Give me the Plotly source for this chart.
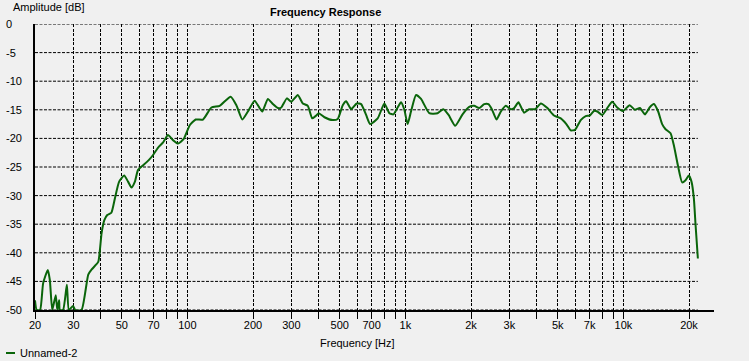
import math
import plotly.graph_objects as go

# ---- data ----
freq_hz = [20.0, 20.36, 21.1, 21.8, 22.9, 23.4, 24.0, 24.9, 25.3, 25.8, 26.0, 26.9, 28.0, 28.6,
           29.9, 30.6, 32.7, 35.1, 36.4, 39.0, 39.7, 40.4, 41.6, 42.9, 44.8, 46.5, 48.6, 51.3,
           53.5, 55.4, 57.4, 59.4, 62.7, 66.5, 69.6, 73.4, 77.4, 81.5, 85.9, 90.6, 96.2, 102.5,
           109.2, 117.9, 128.9, 140.7, 158.0, 167.8, 178.6, 189.5, 203.4, 212.8, 220.6, 234.0,
           246.7, 260.0, 269.6, 285.9, 299.5, 321.0, 338.5, 356.8, 373.7, 390.0, 400.6, 425.4,
           464.4, 489.5, 516.0, 535.0, 563.9, 598.2, 626.6, 660.5, 689.0, 746.5, 801.1, 844.4,
           880.8, 921.6, 955.1, 989.0, 1024, 1061, 1119, 1180, 1287, 1405, 1492, 1578, 1693,
           1829, 1962, 2068, 2180, 2299, 2405, 2493, 2618, 2742, 2890, 3047, 3155, 3301, 3506,
           3696, 3937, 4180, 4481, 4809, 5161, 5474, 5734, 6000, 6372, 6716, 7006, 7331, 7590,
           8001, 8434, 8890, 9371, 9951, 10683, 11297, 11908, 12552, 13190, 13800, 14440, 15060,
           15610, 16460, 17040, 17780, 18600, 19280, 19960, 20540, 21050, 21430, 21960]
amplitude_db = [-48.3, -50.0, -50.0, -45.3, -43.0, -44.8, -50.0, -47.4, -50.0, -48.3, -50.0, -50.0,
                -45.6, -50.0, -49.3, -50.0, -50.0, -43.8, -42.9, -41.6, -39.5, -36.6, -34.3, -33.4,
                -33.0, -30.5, -27.6, -26.5, -27.6, -28.6, -27.6, -25.5, -24.7, -23.8, -22.9, -21.6,
                -20.7, -19.4, -20.3, -20.9, -20.1, -17.7, -16.7, -16.7, -14.6, -14.3, -12.7, -14.2,
                -16.7, -15.3, -13.4, -14.5, -15.3, -13.1, -14.0, -14.7, -14.6, -13.0, -13.6, -12.4,
                -13.9, -14.3, -16.5, -16.0, -15.6, -16.3, -16.8, -16.6, -14.2, -13.5, -14.9, -13.9,
                -14.0, -15.9, -17.5, -16.5, -13.9, -15.6, -15.8, -14.6, -13.7, -15.0, -17.5, -15.3,
                -12.4, -13.1, -15.6, -15.6, -14.9, -15.9, -17.8, -15.8, -14.5, -14.3, -14.7, -14.0,
                -14.0, -14.9, -16.7, -15.3, -14.3, -14.9, -14.7, -13.7, -15.5, -14.9, -14.9, -13.9,
                -14.7, -16.0, -16.5, -17.5, -18.6, -18.5, -16.8, -16.1, -16.0, -15.2, -15.3, -15.9,
                -14.7, -13.6, -14.6, -15.2, -14.2, -15.0, -14.7, -15.8, -14.6, -14.0, -15.3, -17.5,
                -18.4, -19.1, -21.2, -24.7, -27.7, -27.3, -26.5, -27.6, -30.5, -35.1, -41.0]
series_name = "Unnamed-2"

x_grid_vals = [20, 30, 40, 50, 60, 70, 80, 90,
               100, 200, 300, 400, 500, 600, 700, 800, 900,
               1000, 2000, 3000, 4000, 5000, 6000, 7000, 8000, 9000,
               10000, 20000]
x_labels = {20: "20", 30: "30", 50: "50", 70: "70", 100: "100", 200: "200", 300: "300",
            500: "500", 700: "700", 1000: "1k", 2000: "2k", 3000: "3k", 5000: "5k",
            7000: "7k", 10000: "10k", 20000: "20k"}
y_tick_vals = [0, -5, -10, -15, -20, -25, -30, -35, -40, -45, -50]

# ---- layout geometry ----
W, H = 749, 361
ML, MR, MT, MB = 35, 35, 24, 51
PW = W - ML - MR
PH = H - MT - MB
x_min, x_max = 20.0, 26040.0
BG = "#f0f0f0"
GREEN = "#0a650a"
FONT = "Liberation Sans, Arial, sans-serif"
DASH = "3px,1.5px"


def px_x(px):
    return (px - ML) / PW


def px_y(py):
    return (H - MB - py) / PH


def paper_of_freq(f):
    return (math.log10(f) - math.log10(x_min)) / (math.log10(x_max) - math.log10(x_min))


fig = go.Figure()
fig.add_trace(go.Scatter(x=freq_hz, y=amplitude_db, mode="lines", name=series_name,
                         line=dict(color=GREEN, width=2, shape="spline", smoothing=0.5),
                         showlegend=False))

shapes = []
# horizontal grid lines (end at the last data frequency)
x_end = paper_of_freq(freq_hz[-1])
for v in y_tick_vals:
    shapes.append(dict(type="line", xref="paper", yref="y", x0=0, x1=x_end, y0=v, y1=v,
                       line=dict(color="black", width=1, dash=DASH), layer="below"))
# legend sample line
shapes.append(dict(type="line", xref="paper", yref="paper", x0=px_x(6), x1=px_x(15),
                   y0=px_y(353), y1=px_y(353), line=dict(color=GREEN, width=2)))

annotations = []
for v in y_tick_vals:
    annotations.append(dict(text=str(v), xref="paper", yref="y", x=px_x(4), y=v,
                            xanchor="left", yanchor="middle", showarrow=False,
                            font=dict(family=FONT, size=11, color="black")))
annotations += [
    dict(text="Amplitude [dB]", xref="paper", yref="paper", x=px_x(11), y=px_y(7),
         xanchor="left", yanchor="middle", showarrow=False,
         font=dict(family=FONT, size=11, color="black")),
    dict(text="<b>Frequency Response</b>", xref="paper", yref="paper", x=px_x(325), y=px_y(12),
         xanchor="center", yanchor="middle", showarrow=False,
         font=dict(family=FONT, size=11, color="black")),
    dict(text="Frequency [Hz]", xref="paper", yref="paper", x=px_x(357), y=px_y(343),
         xanchor="center", yanchor="middle", showarrow=False,
         font=dict(family=FONT, size=11, color="black")),
    dict(text=series_name, xref="paper", yref="paper", x=px_x(18), y=px_y(353),
         xanchor="left", yanchor="middle", showarrow=False,
         font=dict(family=FONT, size=11, color="black")),
]

fig.update_layout(
    width=W, height=H,
    margin=dict(l=ML, r=MR, t=MT, b=MB, pad=0),
    paper_bgcolor=BG, plot_bgcolor=BG,
    showlegend=False,
    shapes=shapes,
    annotations=annotations,
    font=dict(family=FONT, size=11, color="black"),
)
fig.update_xaxes(
    type="log", range=[math.log10(x_min), math.log10(x_max)],
    tickmode="array", tickvals=x_grid_vals,
    ticktext=[x_labels.get(v, "") for v in x_grid_vals],
    showgrid=True, gridcolor="black", gridwidth=1, griddash=DASH,
    ticks="outside", ticklen=7, tickwidth=1, tickcolor="black",
    showline=True, linecolor="black", linewidth=2,
    zeroline=False, tickfont=dict(family=FONT, size=11, color="black"),
    ticklabelstandoff=-3,
)
fig.update_yaxes(
    range=[-50, 0], tickvals=y_tick_vals, showticklabels=False,
    showgrid=False, zeroline=False, ticks="",
    showline=True, linecolor="black", linewidth=2,
)

fig.write_html(
    "out.html",
    config={"displayModeBar": False},
    post_script="document.body.style.margin='0';document.body.style.overflow='hidden';"
                "document.body.style.background='#f0f0f0';",
)
